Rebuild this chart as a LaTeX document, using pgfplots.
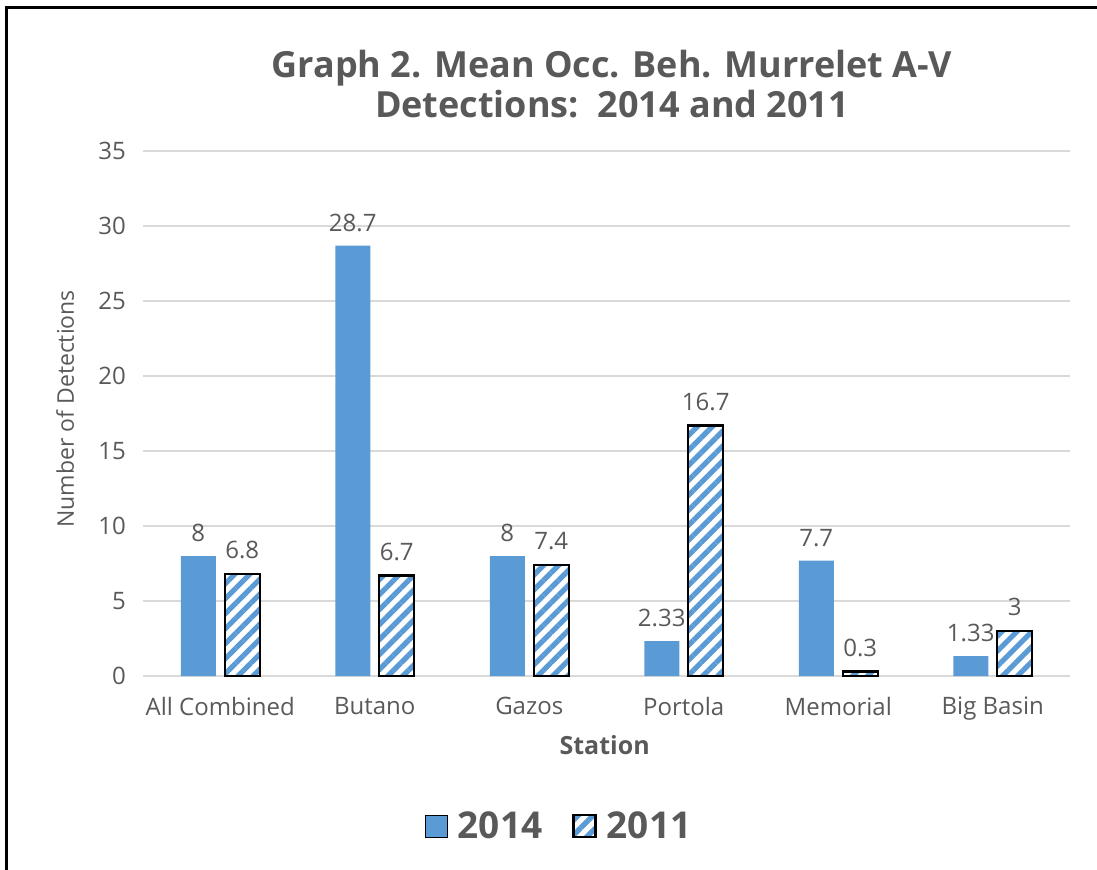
\documentclass[border=0pt]{standalone}
\usepackage{fontspec}
\setmainfont{Open Sans}
\usepackage{pgfplots}
\pgfplotsset{compat=1.18}
\usetikzlibrary{patterns.meta}
\definecolor{barblue}{HTML}{5B9BD5}
\definecolor{txtgray}{HTML}{595959}
\definecolor{gridgray}{HTML}{D9D9D9}
\pgfplotsset{sqlegend/.style={legend image code/.code={\draw[##1] (0pt,-5.5pt) rectangle (11pt,5.5pt);}}}
\begin{document}
\begin{tikzpicture}
\useasboundingbox (0,0) rectangle (548.5pt,-434.5pt);
\draw[line width=1.75pt] (3.25pt,-440pt) -- (3.25pt,-3.75pt) -- (555pt,-3.75pt);
\begin{axis}[
  at={(71.5pt,-338pt)}, anchor=south west,
  scale only axis, width=463.5pt, height=262.5pt,
  ybar, bar width=17.5pt,
  xmin=-0.5, xmax=5.5, ymin=0, ymax=35,
  xtick={0,...,5},
  xticklabels={All Combined,Butano,Gazos,Portola,Memorial,Big Basin},
  ytick={0,5,...,35},
  ymajorgrids, grid style={gridgray, line width=0.6pt},
  major tick length=0pt,
  axis x line*=bottom, axis y line*=left,
  x axis line style={gridgray, line width=0.6pt, -},
  y axis line style={draw=none},
  /pgf/number format/assume math mode=true,
  tick label style={font=\fontsize{12}{14}\selectfont, text=txtgray},
  yticklabel style={xshift=-5pt},
  xticklabel style={yshift=-7pt},
  nodes near coords,
  every node near coord/.append style={font=\fontsize{12}{14}\selectfont, text=txtgray, yshift=3.5pt},
  title={Graph 2. Mean Occ. Beh. Murrelet A-V\\Detections:\ \ 2014 and 2011},
  title style={font=\bfseries\fontsize{18}{20}\selectfont, text=txtgray, align=center,
    at={(axis description cs:0.506,1)}, anchor=south, yshift=7pt},
  ylabel={Number of Detections},
  ylabel style={font=\fontsize{11.5}{13}\selectfont, text=txtgray,
    at={(axis description cs:-0.084,0.509)}, anchor=center},
  xlabel={Station},
  xlabel style={font=\bfseries\fontsize{12.5}{14}\selectfont, text=txtgray,
    at={(axis description cs:0.498,-0.131)}, anchor=center},
  legend columns=2,
  legend style={at={(axis description cs:0.45,-0.286)}, anchor=center, draw=none,
    font=\bfseries\fontsize{18.5}{21}\selectfont, text=txtgray,
    /tikz/every odd column/.append style={column sep=3pt},
    /tikz/every even column/.append style={column sep=13pt}},
]
\addplot[fill=barblue, draw=none, bar shift=-11pt, sqlegend]
  coordinates {(0,8) (1,28.7) (2,8) (3,2.33) (4,7.7) (5,1.33)};
\addlegendentry{2014}
\addplot[draw=black, line width=1.2pt, preaction={fill=white},
  pattern={Lines[angle=45,distance=5.3pt,line width=2.6pt]}, pattern color=barblue,
  bar shift=11pt, sqlegend]
  coordinates {(0,6.8) (1,6.7) (2,7.4) (3,16.7) (4,0.3) (5,3)};
\addlegendentry{2011}
\end{axis}
\end{tikzpicture}
\end{document}
